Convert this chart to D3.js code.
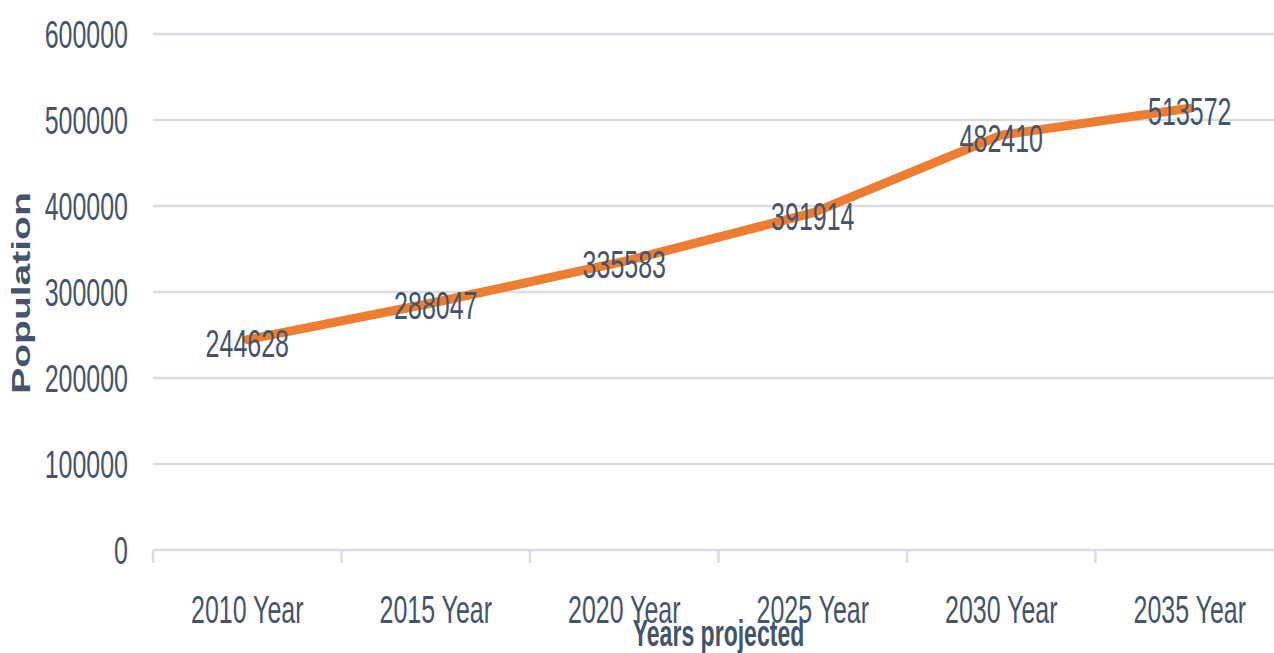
<!DOCTYPE html>
<html><head><meta charset="utf-8">
<script src="https://cdn.jsdelivr.net/npm/d3@7"></script>
<style>html,body{margin:0;padding:0;background:#fff;overflow:hidden}</style>
</head><body>
<svg id="c" width="1274" height="653"></svg>
<script>
const categories = ["2010 Year","2015 Year","2020 Year","2025 Year","2030 Year","2035 Year"];
const population = [244628, 288047, 335583, 391914, 482410, 513572];
const yTicks = [0, 100000, 200000, 300000, 400000, 500000, 600000];
const xTitle = "Years projected";
const yTitle = "Population";

(function(){
const svg = d3.select("#c");
const mLeft = 153, mRight = 1284, mTop = 34, mBottom = 550;
const sx = 0.64;
const textColor = "#44546A", gridColor = "#D9DEE5", lineColor = "#ED7D31";
const font = "Liberation Sans, Arial, sans-serif";

const x = d3.scaleBand().domain(categories).range([mLeft, mRight]);
const y = d3.scaleLinear().domain([0, 600000]).range([mBottom, mTop]);

svg.append("g").selectAll("line").data(yTicks).join("line")
  .attr("x1", mLeft).attr("x2", mRight)
  .attr("y1", d => y(d)).attr("y2", d => y(d))
  .attr("stroke", gridColor).attr("stroke-width", 2.5);

const xTickPos = categories.map(c => x(c)).concat([x(categories[categories.length-1]) + x.bandwidth()]);
svg.append("g").selectAll("line").data(xTickPos).join("line")
  .attr("x1", d => d).attr("x2", d => d)
  .attr("y1", mBottom).attr("y2", mBottom + 13)
  .attr("stroke", gridColor).attr("stroke-width", 2.5);

function hText(g, txt, tx, ty, size, weight, anchor) {
  return g.append("text")
    .attr("transform", `translate(${tx},${ty}) scale(${sx},1)`)
    .attr("text-anchor", anchor || "middle")
    .attr("font-family", font).attr("font-size", size)
    .attr("font-weight", weight || "normal")
    .attr("fill", textColor).text(txt);
}

const gy = svg.append("g");
yTicks.forEach(t => hText(gy, String(t), 128, y(t) + 14, 39, "normal", "end"));

const gx = svg.append("g");
categories.forEach(c => hText(gx, c, x(c) + x.bandwidth()/2, 623, 39, "normal", "middle"));

const line = d3.line().x((d,i) => x(categories[i]) + x.bandwidth()/2).y(d => y(d));
svg.append("path").datum(population)
  .attr("d", line).attr("fill", "none")
  .attr("stroke", lineColor).attr("stroke-width", 9)
  .attr("stroke-linejoin", "round").attr("stroke-linecap", "round");

const gl = svg.append("g");
population.forEach((v, i) => hText(gl, String(v), x(categories[i]) + x.bandwidth()/2, y(v) + 17, 39, "normal", "middle"));

hText(svg, xTitle, (mLeft + mRight)/2, 646, 36, "bold", "middle");
svg.append("text")
  .attr("transform", `translate(30,293) rotate(-90) scale(1,${sx})`)
  .attr("text-anchor", "middle")
  .attr("font-family", font).attr("font-size", 39).attr("font-weight", "bold")
  .attr("fill", textColor).text(yTitle);
})();
</script>
</body></html>
